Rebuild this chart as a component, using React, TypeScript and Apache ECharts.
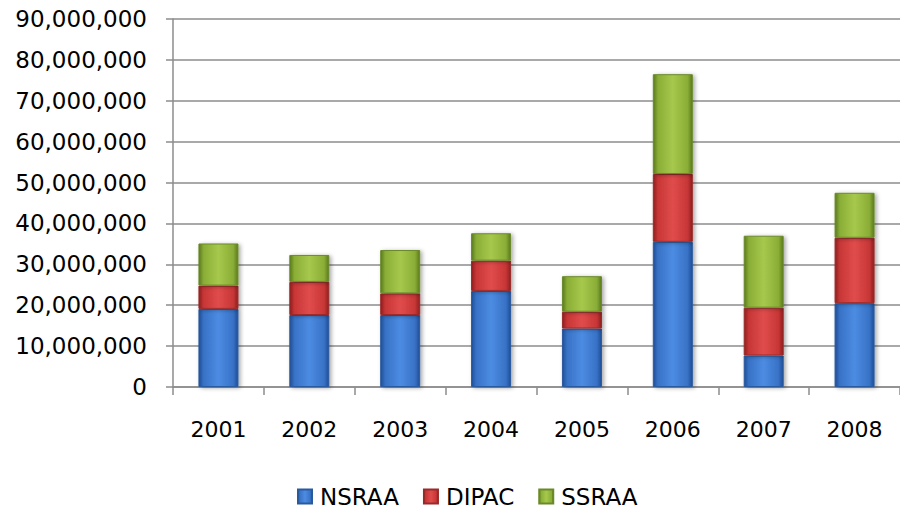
import React, { useEffect, useRef } from "react";
import * as echarts from "echarts";

const years = ["2001", "2002", "2003", "2004", "2005", "2006", "2007", "2008"];
const nsraa = [19100000, 17600000, 17600000, 23500000, 14300000, 35500000, 7700000, 20500000];
const dipac = [5700000, 8100000, 5300000, 7400000, 4100000, 16600000, 11700000, 16000000];
const ssraa = [10300000, 6600000, 10600000, 6700000, 8700000, 24400000, 17600000, 11000000];

const FONT = "DejaVu Sans";

function grad(edge: string, mid: string, light: string) {
  return new echarts.graphic.LinearGradient(0, 0, 1, 0, [
    { offset: 0, color: edge },
    { offset: 0.12, color: mid },
    { offset: 0.5, color: light },
    { offset: 0.88, color: mid },
    { offset: 1, color: edge },
  ]);
}

export default function App() {
  const ref = useRef<HTMLDivElement>(null);
  useEffect(() => {
    if (!ref.current) return;
    const chart = echarts.init(ref.current, null, { renderer: "svg" });
    const barStyle = (edge: string, mid: string, light: string, border: string) => ({
      color: grad(edge, mid, light),
      borderColor: border,
      borderWidth: 1,
      shadowBlur: 4,
      shadowOffsetX: 2,
      shadowOffsetY: 1,
      shadowColor: "rgba(0,0,0,0.35)",
    });
    chart.setOption({
      animation: false,
      textStyle: { fontFamily: FONT },
      grid: { left: 173, top: 19, bottom: 125, width: 732, containLabel: false },
      legend: {
        left: 292,
        top: 480,
        itemWidth: 14,
        itemHeight: 14,
        itemGap: 24,
        icon: "rect",
        textStyle: { fontFamily: FONT, fontSize: 23, color: "#000", padding: [0, 0, 0, 3] },
        data: ["NSRAA", "DIPAC", "SSRAA"],
      },
      xAxis: {
        type: "category",
        data: years,
        axisLine: { lineStyle: { color: "#8c8c8c", width: 1.5 } },
        axisTick: { show: true, length: 8, lineStyle: { color: "#8c8c8c", width: 1.5 } },
        axisLabel: { fontFamily: FONT, fontSize: 22, color: "#000", margin: 31 },
      },
      yAxis: {
        type: "value",
        min: 0,
        max: 90000000,
        interval: 10000000,
        axisLine: { show: true, lineStyle: { color: "#8c8c8c", width: 1.5 } },
        axisTick: { show: true, length: 7, lineStyle: { color: "#8c8c8c", width: 1.5 } },
        splitLine: { lineStyle: { color: "#8c8c8c", width: 1.5 } },
        axisLabel: {
          fontFamily: FONT,
          fontSize: 23,
          color: "#000",
          margin: 26,
          formatter: (v: number) => v.toLocaleString("en-US"),
        },
      },
      series: [
        {
          name: "NSRAA",
          type: "bar",
          stack: "t",
          barWidth: 40,
          data: nsraa,
          itemStyle: barStyle("#1f4e96", "#3872c6", "#4c8ce2", "#2a5a9e"),
        },
        {
          name: "DIPAC",
          type: "bar",
          stack: "t",
          barWidth: 40,
          data: dipac,
          itemStyle: barStyle("#8e1f1f", "#c83636", "#e04c4c", "#9a2a2a"),
        },
        {
          name: "SSRAA",
          type: "bar",
          stack: "t",
          barWidth: 40,
          data: ssraa,
          itemStyle: barStyle("#5a7a1e", "#8aad36", "#a6c84c", "#6a8a2a"),
        },
      ],
    });
    return () => chart.dispose();
  }, []);
  return (
    <div
      ref={ref}
      style={{ position: "absolute", left: 0, top: 0, width: 900, height: 512, background: "#fff" }}
    />
  );
}
